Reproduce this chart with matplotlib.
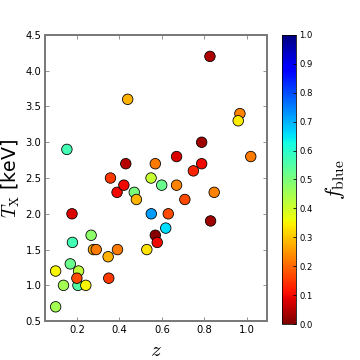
import matplotlib
matplotlib.use("Agg")
import matplotlib.pyplot as plt
import numpy as np

# redshift, X-ray temperature and blue fraction of each cluster
z = [0.100, 0.137, 0.205, 0.242, 0.100, 0.208, 0.200, 0.169, 0.179, 0.177,
     0.153, 0.267, 0.278, 0.291, 0.347, 0.350, 0.391, 0.529, 0.569, 0.578,
     0.550, 0.630, 0.618, 0.829, 0.358, 0.430, 0.569, 0.389, 0.421, 0.470,
     0.480, 0.549, 0.599, 0.669, 0.846, 0.708, 0.967, 0.959, 0.787, 0.669,
     1.018, 0.787, 0.748, 0.826, 0.439]
t_x = [0.7, 1.0, 1.0, 1.0, 1.2, 1.2, 1.1, 1.3, 1.6, 2.0,
       2.9, 1.7, 1.5, 1.5, 1.4, 1.1, 1.5, 1.5, 1.7, 1.6,
       2.0, 2.0, 1.8, 1.9, 2.5, 2.7, 2.7, 2.3, 2.4, 2.3,
       2.2, 2.5, 2.4, 2.4, 2.3, 2.2, 3.4, 3.3, 3.0, 2.8,
       2.8, 2.7, 2.6, 4.2, 3.6]
f_blue = [0.45, 0.45, 0.55, 0.35, 0.35, 0.42, 0.17, 0.52, 0.57, 0.08,
          0.57, 0.48, 0.27, 0.22, 0.28, 0.15, 0.22, 0.33, 0.01, 0.10,
          0.72, 0.17, 0.66, 0.03, 0.15, 0.05, 0.22, 0.10, 0.10, 0.50,
          0.28, 0.41, 0.52, 0.23, 0.23, 0.17, 0.23, 0.34, 0.03, 0.08,
          0.22, 0.10, 0.13, 0.04, 0.28]

SPINE_GRAY = "#7a7a7a"
plt.rcParams["mathtext.fontset"] = "cm"

fig = plt.figure(figsize=(5, 5), dpi=72)
ax = fig.add_axes([0.125, 0.108, 0.617, 0.795])
cax = fig.add_axes([0.783, 0.100, 0.039, 0.803])

sc = ax.scatter(z, t_x, c=f_blue, cmap="jet_r", vmin=0, vmax=1,
                s=110, edgecolors="k", linewidths=0.8, zorder=3)

ax.set_xlim(0.05, 1.095)
ax.set_ylim(0.5, 4.5)
ax.set_xticks(np.arange(0.2, 1.01, 0.2))
ax.set_yticks(np.arange(0.5, 4.51, 0.5))
ax.tick_params(direction="in", top=True, right=True, length=4,
               color=SPINE_GRAY, labelsize=10)
for sp in ax.spines.values():
    sp.set_color(SPINE_GRAY)
    sp.set_linewidth(2)

ax.set_xlabel("$z$", fontsize=21, labelpad=5)
ax.set_ylabel(r"$T_{\rm X}$ [keV]", fontsize=19, labelpad=3)

cb = fig.colorbar(sc, cax=cax)
cb.set_ticks(np.arange(0, 1.01, 0.1))
cb.ax.tick_params(labelsize=8.5, direction="in", length=3)
cb.outline.set_linewidth(0.8)
cb.set_label(r"$f_{\rm blue}$", fontsize=22, labelpad=10)

fig.savefig("out.png", dpi=72)
